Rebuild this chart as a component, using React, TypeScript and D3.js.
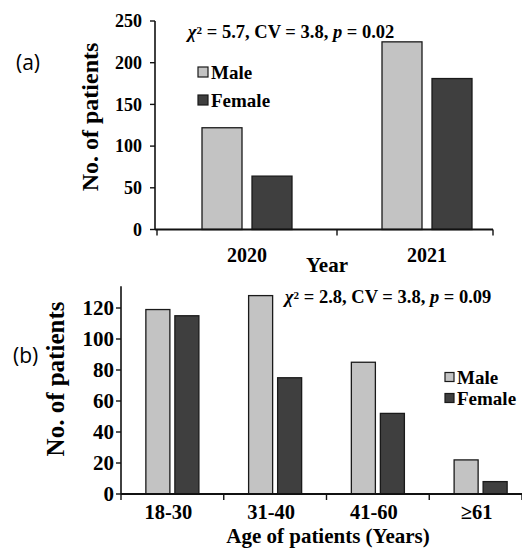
import { useEffect, useRef } from "react";
import * as d3 from "d3";

const series = ["Male", "Female"];
const colors = ["#c3c3c3", "#3f3f3f"];

// panel (a)
const years = ["2020", "2021"];
const yearMale = [122, 225];
const yearFemale = [64, 181];
const yearTicks = [0, 50, 100, 150, 200, 250];

// panel (b)
const ageGroups = ["18-30", "31-40", "41-60", "≥61"];
const ageMale = [119, 128, 85, 22];
const ageFemale = [115, 75, 52, 8];
const ageTicks = [0, 20, 40, 60, 80, 100, 120];

const serif = "'Liberation Serif', 'Times New Roman', serif";
const sans = "'Open Sans', 'Noto Sans', sans-serif";

export default function App() {
    const svgRef = useRef<SVGSVGElement | null>(null);

    useEffect(() => {
        if (!svgRef.current) return;
        const svg = d3.select(svgRef.current);
        svg.selectAll("*").remove();

        function panel(opts: any) {
            const g = svg.append("g");
            const y = d3.scaleLinear().domain([0, opts.yMax]).range([opts.y0, opts.yTop]);
            const x0 = d3.scaleBand().domain(opts.cats).range(opts.xRange).paddingInner(0).paddingOuter(0);
            const x1 = d3.scaleBand().domain(series).range([0, x0.bandwidth()])
                .paddingInner(opts.innerPad).paddingOuter(opts.outerPad);

            // bars
            opts.cats.forEach((c: string, i: number) => {
                const vals = [opts.male[i], opts.female[i]];
                series.forEach((s, j) => {
                    g.append("rect")
                        .attr("x", (x0(c) as number) + (x1(s) as number))
                        .attr("y", y(vals[j]))
                        .attr("width", x1.bandwidth())
                        .attr("height", y(0) - y(vals[j]))
                        .attr("fill", colors[j])
                        .attr("stroke", "#1a1a1a")
                        .attr("stroke-width", 1.3);
                });
            });

            // y axis
            g.append("line")
                .attr("x1", opts.axisX).attr("x2", opts.axisX)
                .attr("y1", y(0)).attr("y2", y(opts.yMax))
                .attr("stroke", "#111").attr("stroke-width", 1.6);
            opts.ticks.forEach((t: number) => {
                g.append("line")
                    .attr("x1", opts.axisX - 5).attr("x2", opts.axisX)
                    .attr("y1", y(t)).attr("y2", y(t))
                    .attr("stroke", "#111").attr("stroke-width", 1.4);
                g.append("text")
                    .attr("x", opts.axisX - opts.tickPad).attr("y", y(t))
                    .attr("dy", "0.34em")
                    .attr("text-anchor", "end")
                    .style("font-family", serif).style("font-weight", "bold")
                    .style("font-size", opts.tickFont + "px")
                    .text(t);
            });

            // x axis
            g.append("line")
                .attr("x1", opts.axisX).attr("x2", opts.xEnd)
                .attr("y1", y(0)).attr("y2", y(0))
                .attr("stroke", "#111").attr("stroke-width", 1.8);
            const marks = opts.cats.map((c: string) => x0(c) as number)
                .concat([opts.xEnd])
                .filter((v: number) => v <= opts.xEnd);
            marks.forEach((m: number) => {
                g.append("line")
                    .attr("x1", m).attr("x2", m)
                    .attr("y1", y(0)).attr("y2", y(0) + 6)
                    .attr("stroke", "#111").attr("stroke-width", 1.4);
            });
            opts.cats.forEach((c: string) => {
                g.append("text")
                    .attr("x", (x0(c) as number) + x0.bandwidth() / 2 + opts.labelShift)
                    .attr("y", opts.xLabelY)
                    .attr("text-anchor", "middle")
                    .style("font-family", serif).style("font-weight", "bold")
                    .style("font-size", opts.xTickFont + "px")
                    .text(c);
            });

            // axis titles
            g.append("text")
                .attr("transform", `translate(${opts.yTitle[0]},${opts.yTitle[1]}) rotate(-90)`)
                .attr("text-anchor", "middle")
                .style("font-family", serif).style("font-weight", "bold")
                .style("font-size", opts.titleFont + "px")
                .text("No. of patients");
            g.append("text")
                .attr("x", opts.xTitle[0]).attr("y", opts.xTitle[1])
                .attr("text-anchor", "middle")
                .style("font-family", serif).style("font-weight", "bold")
                .style("font-size", opts.xTitleFont + "px")
                .text(opts.xTitleText);

            // panel tag
            g.append("text")
                .attr("x", opts.tag[0]).attr("y", opts.tag[1])
                .style("font-family", sans).style("font-size", "21px")
                .text(opts.tagText);

            // statistics
            const st = g.append("text")
                .attr("x", opts.stat[0]).attr("y", opts.stat[1])
                .style("font-family", serif).style("font-weight", "bold")
                .style("font-size", opts.statFont + "px");
            st.append("tspan").style("font-style", "italic").text("χ");
            st.append("tspan").attr("dy", "-0.4em").style("font-size", "0.6em").text("2");
            st.append("tspan").attr("dy", "0.24em").text(` = ${opts.statVals[0]}, CV = ${opts.statVals[1]},${opts.statGap}`);
            st.append("tspan").style("font-style", "italic").text("p");
            st.append("tspan").text(` = ${opts.statVals[2]}`);

            // legend
            series.forEach((s, j) => {
                const ly = opts.legend[1] + j * opts.legendStep;
                g.append("rect")
                    .attr("x", opts.legend[0]).attr("y", ly - opts.legendBox / 2)
                    .attr("width", opts.legendBox).attr("height", opts.legendBox)
                    .attr("fill", colors[j]).attr("stroke", "#1a1a1a").attr("stroke-width", 1.2);
                g.append("text")
                    .attr("x", opts.legend[0] + opts.legendBox + 3).attr("y", ly)
                    .attr("dy", "0.35em")
                    .style("font-family", serif).style("font-weight", "bold")
                    .style("font-size", opts.legendFont + "px")
                    .text(s);
            });
        }

        panel({
            cats: years, male: yearMale, female: yearFemale, ticks: yearTicks,
            yMax: 250, y0: 229.5, yTop: 21,
            xRange: [157, 517], innerPad: 0.2, outerPad: 0.9,
            axisX: 155, xEnd: 493, tickPad: 13, tickFont: 18,
            xLabelY: 262, xTickFont: 20, labelShift: 0,
            yTitle: [98, 117], titleFont: 24,
            xTitle: [327, 272], xTitleFont: 21, xTitleText: "Year",
            tag: [16, 70], tagText: "(a)",
            stat: [188, 38], statFont: 18.5, statVals: ["5.7", "3.8", "0.02"], statGap: "  ",
            legend: [198, 72], legendStep: 28, legendBox: 10, legendFont: 19,
        });

        panel({
            cats: ageGroups, male: ageMale, female: ageFemale, ticks: ageTicks,
            yMax: 134, y0: 494, yTop: 494 - 134 * 1.55,
            xRange: [121, 532], innerPad: 0.172, outerPad: 0.857,
            axisX: 121, xEnd: 522, tickPad: 7, tickFont: 21,
            xLabelY: 519, xTickFont: 20.5, labelShift: -4,
            yTitle: [64, 379], titleFont: 25,
            xTitle: [328, 543], xTitleFont: 21, xTitleText: "Age of patients (Years)",
            tag: [13, 363], tagText: "(b)",
            stat: [285, 303], statFont: 18.5, statVals: ["2.8", "3.8", "0.09"], statGap: " ",
            legend: [445, 377], legendStep: 21, legendBox: 9, legendFont: 19,
        });
    }, []);

    return (
        <svg ref={svgRef} width={522} height={548}
             style={{position: "absolute", left: 0, top: 0, background: "#fff"}}></svg>
    );
}
